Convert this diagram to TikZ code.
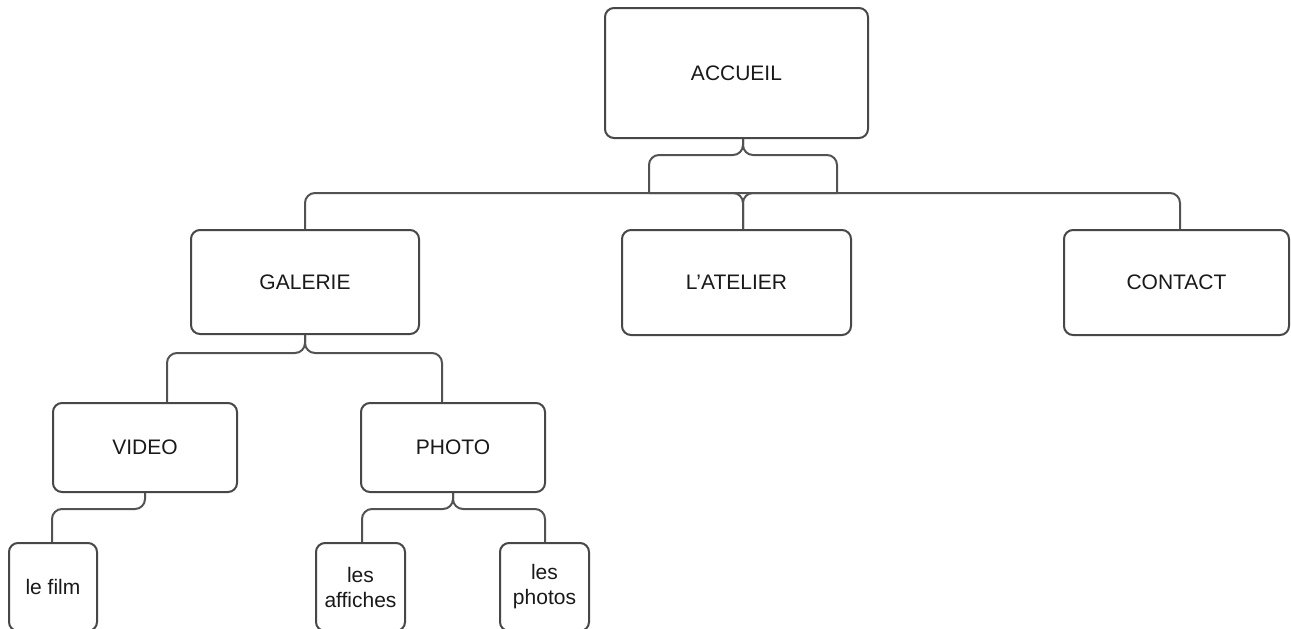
\documentclass[tikz,border=0pt]{standalone}
\usepackage{fontspec}
\setmainfont{Liberation Sans}
\begin{document}
\begin{tikzpicture}[x=1pt,y=-1pt,
  box/.style={draw=black!72,line width=2pt,rounded corners=9pt,fill=white,
    inner sep=0pt,align=center,text=black!90,font=\fontsize{21}{25}\selectfont},
  conn/.style={draw=black!68,line width=2pt,rounded corners=10pt}]
\useasboundingbox (0,0) rectangle (1291,629);
\clip (0,0) rectangle (1291,629);
\node[box,minimum width=263pt,minimum height=130pt] (accueil) at (736.5,73) {ACCUEIL};
\node[box,minimum width=228pt,minimum height=104pt] (galerie) at (305,282) {GALERIE};
\node[box,minimum width=229pt,minimum height=105pt] (atelier) at (736.5,282.5) {L'ATELIER};
\node[box,minimum width=225pt,minimum height=105pt] (contact) at (1176.5,282.5) {CONTACT};
\node[box,minimum width=184pt,minimum height=89pt] (video) at (145,447.5) {VIDEO};
\node[box,minimum width=184pt,minimum height=89pt] (photo) at (453,447.5) {PHOTO};
\node[box,minimum width=88pt,minimum height=88pt] (film) at (53,587) {le film};
\node[box,minimum width=89pt,minimum height=88pt] (affiches) at (360.5,587) {les\\affiches};
\node[box,minimum width=89pt,minimum height=88pt] (photos) at (544.5,587) {les\\photos};
\coordinate (jl) at (649,193);
\coordinate (jr) at (837,193);
\coordinate (jc) at (743,193);
% ACCUEIL connectors
\draw[conn] (accueil.south -| 743,0) |- (649,155) -- (jl);
\draw[conn] (accueil.south -| 743,0) |- (837,155) -- (jr);
\draw[conn] (galerie.north) |- (jc) -| (contact.north -| 1180,0);
\draw[conn] (jl) -- (jc) -- (atelier.north -| 743,0);
\draw[conn] (jr) -- (jc) -- (atelier.north -| 743,0);
% GALERIE connectors
\draw[conn] (galerie.south) |- (167,353) -- (video.north -| 167,0);
\draw[conn] (galerie.south) |- (442,353) -- (photo.north -| 442,0);
% VIDEO / PHOTO connectors
\draw[conn] (video.south) |- (52,509) -- (film.north -| 52,0);
\draw[conn] (photo.south) |- (362,509) -- (affiches.north -| 362,0);
\draw[conn] (photo.south) |- (545,509) -- (photos.north -| 545,0);
\end{tikzpicture}
\end{document}
